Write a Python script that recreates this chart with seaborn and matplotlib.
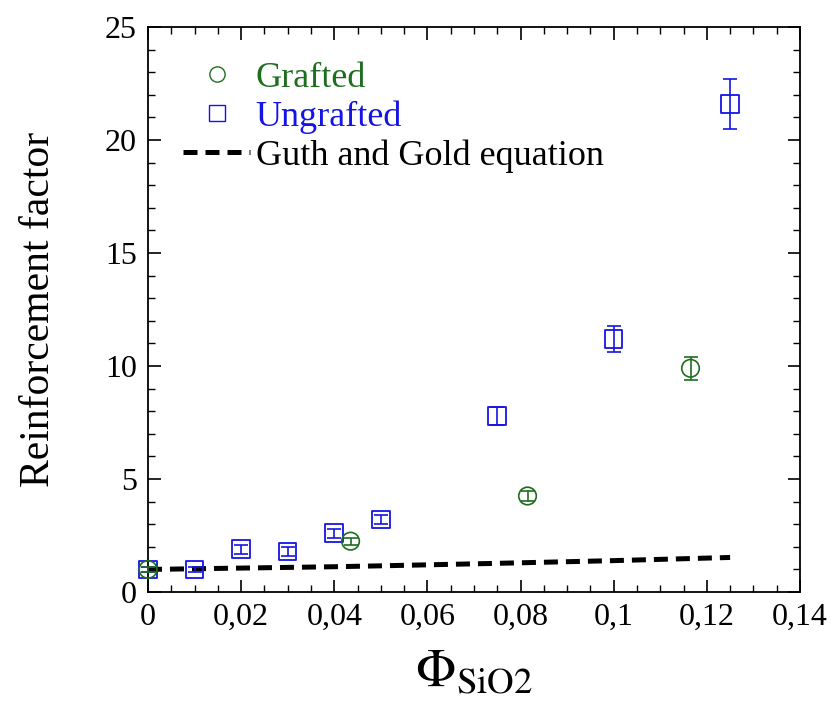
import numpy as np
import pandas as pd
import matplotlib
matplotlib.use("Agg")
import matplotlib.pyplot as plt
import seaborn as sns
from matplotlib.lines import Line2D
from matplotlib.ticker import MultipleLocator

# ---- data ----
ungrafted_phi = [0.0, 0.01, 0.02, 0.03, 0.04, 0.05, 0.075, 0.1, 0.125]
ungrafted_rf = [1.0, 1.0, 1.9, 1.8, 2.6, 3.2, 7.8, 11.2, 21.6]
ungrafted_err = [0.1, 0.1, 0.2, 0.2, 0.2, 0.2, 0.4, 0.57, 1.1]

grafted_phi = [0.0, 0.0435, 0.0815, 0.1165]
grafted_rf = [1.0, 2.25, 4.25, 9.9]
grafted_err = [0.1, 0.15, 0.2, 0.5]

guth_phi = [0.0, 0.01, 0.02, 0.03, 0.04, 0.05, 0.075, 0.1, 0.125]
guth_rf = [1.0, 1.03, 1.06, 1.09, 1.12, 1.16, 1.27, 1.39, 1.53]

xticks = [0, 0.02, 0.04, 0.06, 0.08, 0.1, 0.12, 0.14]
xticklabels = ["0", "0,02", "0,04", "0,06", "0,08", "0,1", "0,12", "0,14"]
yticks = [0, 5, 10, 15, 20, 25]

green = "#1e6e1e"
blue = "#1414e6"

sns.set_style("ticks", {"axes.edgecolor": "black", "text.color": "black",
                        "axes.labelcolor": "black", "xtick.color": "black",
                        "ytick.color": "black"})
plt.rcParams["font.family"] = ["Liberation Serif", "DejaVu Serif"]
plt.rcParams["mathtext.fontset"] = "stix"

fig = plt.figure(figsize=(8.38, 7.22), dpi=100)
ax = fig.add_axes([0.1766, 0.18, 0.778, 0.7826])

gdf = pd.DataFrame({"phi": guth_phi, "rf": guth_rf})
sns.lineplot(data=gdf, x="phi", y="rf", ax=ax, color="black", linewidth=3.6,
             dashes=False, zorder=2)
ax.lines[-1].set_dashes((2.8, 1.6))

for (xs, ys, es, c) in [(ungrafted_phi, ungrafted_rf, ungrafted_err, blue),
                        (grafted_phi, grafted_rf, grafted_err, green)]:
    cont = ax.errorbar(xs, ys, yerr=es, fmt="none", ecolor=c, elinewidth=1.2,
                       capsize=5, capthick=1.2, zorder=3)
    for art in cont.get_children():
        art.set_clip_on(False)

udf = pd.DataFrame({"phi": ungrafted_phi, "rf": ungrafted_rf})
gdf2 = pd.DataFrame({"phi": grafted_phi, "rf": grafted_rf})
sns.scatterplot(data=udf, x="phi", y="rf", ax=ax, marker="s", s=160,
                facecolor="none", edgecolor=blue, linewidth=1.3, zorder=4,
                clip_on=False)
sns.scatterplot(data=gdf2, x="phi", y="rf", ax=ax, marker="o", s=160,
                facecolor="none", edgecolor=green, linewidth=1.2, zorder=4,
                clip_on=False)

ax.set_xlim(0, 0.14)
ax.set_ylim(0, 25)
ax.set_xticks(xticks)
ax.set_xticklabels(xticklabels)
ax.set_yticks(yticks)
ax.xaxis.set_minor_locator(MultipleLocator(0.005))
ax.yaxis.set_minor_locator(MultipleLocator(1))
ax.tick_params(which="both", direction="in", top=True, right=True,
               labelsize=23, pad=8, colors="black")
ax.tick_params(which="major", length=9, width=1.2)
ax.tick_params(which="minor", length=5, width=1.0)
for sp in ax.spines.values():
    sp.set_linewidth(1.3)
    sp.set_color("black")
    sp.set_visible(True)

ax.set_xlabel(r"$\Phi_{\mathrm{SiO2}}$", fontsize=38, labelpad=12, color="black")
ax.set_ylabel("Reinforcement factor", fontsize=30, labelpad=34, color="black")

handles = [
    Line2D([], [], marker="o", linestyle="none", markerfacecolor="none",
           markeredgecolor=green, markersize=11),
    Line2D([], [], marker="s", linestyle="none", markerfacecolor="none",
           markeredgecolor=blue, markersize=11),
    Line2D([], [], color="black", linewidth=3.6, dashes=(2.8, 1.6)),
]
labels = ["Grafted", "Ungrafted", "Guth and Gold equation"]
leg = ax.legend(handles, labels, loc="upper left", bbox_to_anchor=(0.032, 0.964),
                frameon=False, fontsize=26, handlelength=1.85, handletextpad=0.15,
                labelspacing=0.15, borderaxespad=0.0)
for t, c in zip(leg.get_texts(), [green, blue, "black"]):
    t.set_color(c)

fig.savefig("out.png", dpi=100)
